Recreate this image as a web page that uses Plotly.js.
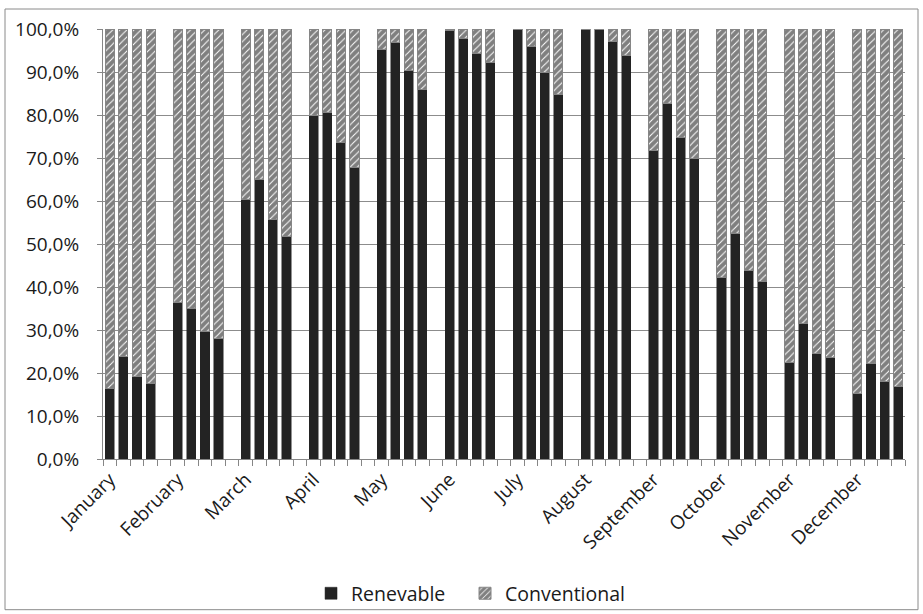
<!DOCTYPE html>
<html>
<head>
<meta charset="utf-8">
<script src="https://cdn.plot.ly/plotly-3.0.1.min.js"></script>
<style>
  html, body { margin: 0; padding: 0; background: #fff; }
  #chart { width: 923px; height: 614px; }
</style>
</head>
<body>
<div id="chart"></div>
<script>
// Months (category labels)
const months = ["January", "February", "March", "April", "May", "June",
                "July", "August", "September", "October", "November", "December"];

// Renewable share (%) – four bars per month
const renewable = [
  [16.5, 23.9, 19.2, 17.6],   // January
  [36.3, 35.0, 29.7, 28.0],   // February
  [60.3, 65.0, 55.7, 51.8],   // March
  [80.0, 80.5, 73.6, 67.9],   // April
  [95.3, 96.9, 90.4, 86.0],   // May
  [99.7, 97.7, 94.2, 92.1],   // June
  [100.0, 96.0, 90.0, 84.7],  // July
  [100.0, 100.0, 97.1, 93.8], // August
  [71.8, 82.6, 74.7, 69.8],   // September
  [42.3, 52.4, 43.8, 41.2],   // October
  [22.5, 31.4, 24.6, 23.6],   // November
  [15.3, 22.3, 18.0, 16.9]    // December
];

// Conventional share (%) – four bars per month
const conventional = [
  [83.5, 76.1, 80.8, 82.4],
  [63.7, 65.0, 70.3, 72.0],
  [39.7, 35.0, 44.3, 48.2],
  [20.0, 19.5, 26.4, 32.1],
  [4.7, 3.1, 9.6, 14.0],
  [0.3, 2.3, 5.8, 7.9],
  [0.0, 4.0, 10.0, 15.3],
  [0.0, 0.0, 2.9, 6.2],
  [28.2, 17.4, 25.3, 30.2],
  [57.7, 47.6, 56.2, 58.8],
  [77.5, 68.6, 75.4, 76.4],
  [84.7, 77.7, 82.0, 83.1]
];

// Y tick values (%)
const yTicks = [0, 10, 20, 30, 40, 50, 60, 70, 80, 90, 100];

const seriesNames = ["Renevable", "Conventional"];
const barsPerMonth = 4;
const slotsPerMonth = 5; // 4 bars + 1 empty gap slot

const xs = [], yR = [], yC = [];
months.forEach((m, mi) => {
  for (let w = 0; w < barsPerMonth; w++) {
    xs.push(mi * slotsPerMonth + w);
    yR.push(renewable[mi][w]);
    yC.push(conventional[mi][w]);
  }
});
const tickPos = months.map((m, mi) => mi * slotsPerMonth);
const yTickText = yTicks.map(v => v.toFixed(1).replace(".", ",") + "%");

const dark = "#232323";
const gray = "#868686";
const fontFam = "Open Sans, Noto Sans, sans-serif";
const txt = "#1a1a1a";

const traces = [
  {
    type: "bar", name: seriesNames[0], x: xs, y: yR, legend: "legend",
    marker: { color: dark, line: { color: dark, width: 0.5 } },
    hoverinfo: "skip"
  },
  {
    type: "bar", name: seriesNames[1], x: xs, y: yC, legend: "legend2",
    marker: {
      color: "#ffffff",
      line: { color: gray, width: 1 },
      pattern: { shape: "/", fgcolor: "#000000", bgcolor: "#ffffff", size: 5, solidity: 0.8, fillmode: "overlay" }
    },
    hoverinfo: "skip"
  }
];

const legendFont = { family: fontFam, size: 19.5, color: txt };

const layout = {
  width: 923, height: 614,
  margin: { l: 103, r: 18, t: 29, b: 155, pad: 0, autoexpand: false },
  paper_bgcolor: "#ffffff", plot_bgcolor: "#ffffff",
  barmode: "stack",
  bargap: 0.33,
  font: { family: fontFam, size: 19, color: txt },
  showlegend: true,
  legend: {
    orientation: "h", x: 0.2594, xanchor: "left", y: -0.313, yanchor: "middle",
    font: legendFont, bgcolor: "rgba(0,0,0,0)"
  },
  legend2: {
    orientation: "h", x: 0.4514, xanchor: "left", y: -0.313, yanchor: "middle",
    font: legendFont, bgcolor: "rgba(0,0,0,0)"
  },
  xaxis: {
    type: "linear", automargin: false,
    range: [-0.5, slotsPerMonth * months.length - 1.5],
    tickmode: "array", tickvals: tickPos, ticktext: months,
    tickangle: -45,
    ticks: "", showgrid: false, zeroline: false,
    showline: true, linecolor: gray, linewidth: 1,
    tickfont: { family: fontFam, size: 19, color: txt },
    ticklabelstandoff: 1,
    minor: { ticks: "outside", tick0: -0.5, dtick: 1, ticklen: 6, tickcolor: gray, tickwidth: 1, showgrid: false },
    fixedrange: true
  },
  yaxis: {
    automargin: false,
    range: [0, 100],
    tickmode: "array", tickvals: yTicks, ticktext: yTickText,
    ticks: "outside", ticklen: 5, tickcolor: gray, tickwidth: 1,
    showgrid: true, gridcolor: "#8c8c8c", gridwidth: 1,
    zeroline: false, showline: true, linecolor: gray, linewidth: 1,
    tickfont: { family: fontFam, size: 19, color: txt },
    ticklabelstandoff: 14,
    fixedrange: true
  },
  shapes: [
    {
      type: "rect", xref: "paper", yref: "paper",
      x0: (5 - 103) / 802, x1: (918 - 103) / 802,
      y0: (459.3 - 610) / 430, y1: (459.3 - 9.3) / 430,
      line: { color: "#8a8a8a", width: 1 }, fillcolor: "rgba(0,0,0,0)", layer: "below"
    }
  ]
};

Plotly.newPlot("chart", traces, layout, { displayModeBar: false, staticPlot: true });
</script>
</body>
</html>
